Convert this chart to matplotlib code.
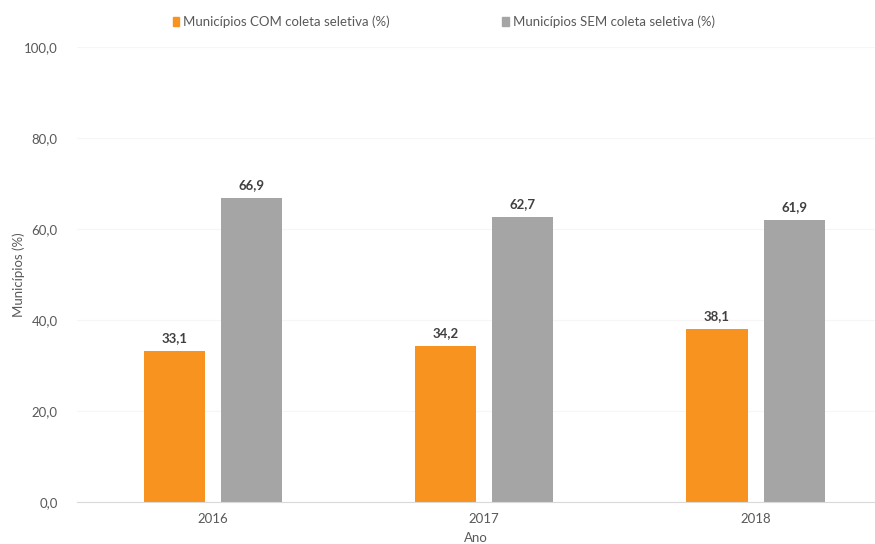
import matplotlib
matplotlib.use("Agg")
import matplotlib.pyplot as plt
import numpy as np
from matplotlib.patches import Patch

# Share of municipalities with / without selective waste collection
anos = ["2016", "2017", "2018"]
com_coleta = [33.1, 34.2, 38.1]
sem_coleta = [66.9, 62.7, 61.9]
legenda = ["Municípios COM coleta seletiva (%)", "Municípios SEM coleta seletiva (%)"]
y_ticks = [0, 20, 40, 60, 80, 100]

laranja = "#F7931E"
cinza = "#A5A5A5"
texto = "#595959"

plt.rcParams["font.family"] = ["Lato", "DejaVu Sans"]

fig = plt.figure(figsize=(8.75, 5.44), dpi=100)
ax = fig.add_axes([77 / 875, 1 - 502 / 544, 1 - 77 / 875, 455 / 544])

x = np.arange(len(anos))
largura = 0.225
desloc = 0.142

b1 = ax.bar(x - desloc, com_coleta, largura, color=laranja, zorder=2)
b2 = ax.bar(x + desloc, sem_coleta, largura, color=cinza, zorder=2)

for barras, valores in ((b1, com_coleta), (b2, sem_coleta)):
    for barra, v in zip(barras, valores):
        ax.text(barra.get_x() + barra.get_width() / 2, v + 1.5,
                f"{v:.1f}".replace(".", ","), ha="center", va="bottom",
                fontsize=9.5, fontweight="bold", color="#404040")

ax.set_xlim(-0.5, 2.44)
ax.set_ylim(0, 100)
ax.set_yticks(y_ticks)
ax.set_yticklabels([f"{t:.1f}".replace(".", ",") for t in y_ticks])
ax.set_xticks(x)
ax.set_xticklabels(anos)
ax.tick_params(axis="both", length=0, labelsize=9.5, colors=texto)
ax.tick_params(axis="y", pad=14)
ax.tick_params(axis="x", pad=8)

ax.grid(axis="y", color="#F6F6F6", linewidth=0.8, zorder=0)
for lado in ("top", "right", "left"):
    ax.spines[lado].set_visible(False)
ax.spines["bottom"].set_color("#D9D9D9")

ax.set_ylabel("Municípios (%)", fontsize=9.5, color=texto)
ax.yaxis.set_label_coords(-0.065, 0.5)
ax.set_xlabel("Ano", fontsize=9.5, color=texto, labelpad=5)

handles = [Patch(color=laranja), Patch(color=cinza)]
fig.legend(handles, legenda, loc="center", bbox_to_anchor=(0.507, 1 - 22 / 544),
           ncol=2, frameon=False, fontsize=9.5, handlelength=0.5, handleheight=0.7,
           handletextpad=0.3, columnspacing=8.5, labelcolor=texto)

fig.savefig("out.png", dpi=100)
